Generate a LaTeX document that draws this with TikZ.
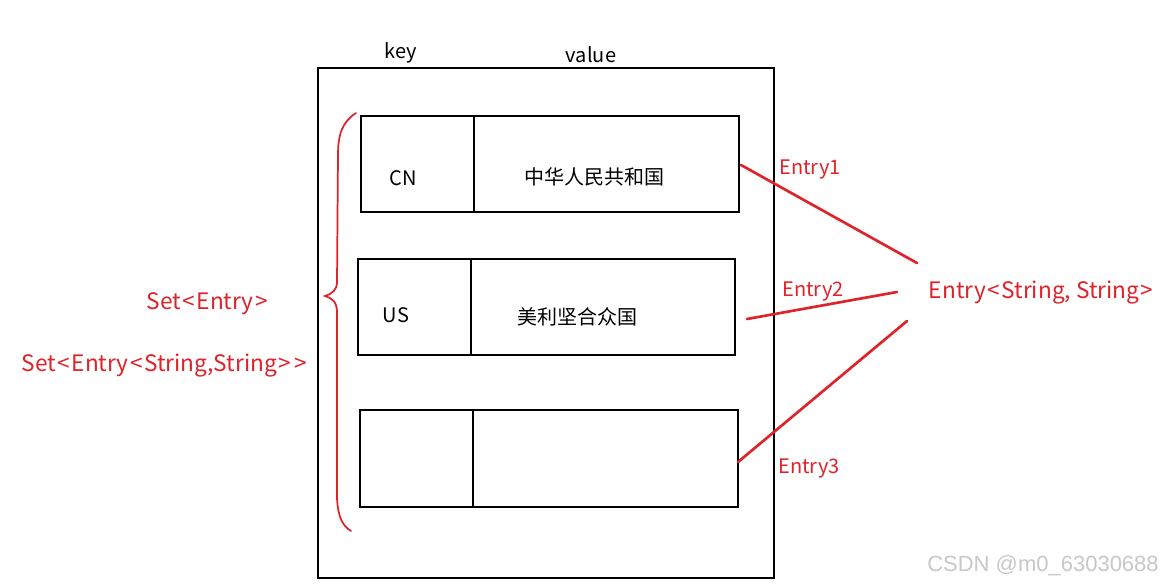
\documentclass[tikz,border=0pt]{standalone}
\usepackage{fontspec}
\setmainfont{Noto Sans CJK SC}
\newfontfamily\wmfont{Liberation Sans}
\definecolor{penred}{RGB}{222,35,42}
\definecolor{wmgray}{RGB}{200,200,200}
\newcommand{\LT}{\kern1.2pt<\kern1.2pt}
\newcommand{\GT}{\kern1.2pt>\kern1.2pt}
\tikzset{
  box/.style={draw=black, line width=2.2pt},
  cell/.style={draw=black, line width=2pt},
  redline/.style={draw=penred, line width=2pt, line cap=round},
  blk/.style={text=black, font=\fontsize{15}{18}\selectfont, inner sep=0pt},
  rtxt/.style={text=penred, font=\fontsize{15}{18}\selectfont, inner sep=0pt},
  bigr/.style={text=penred, font=\fontsize{17}{20}\selectfont, inner sep=0pt},
}
\begin{document}
\begin{tikzpicture}[x=0.75pt, y=-0.75pt]
\useasboundingbox[fill=white] (0,0) rectangle (1166,586);
% outer box
\draw[box] (318,68) rectangle (774,578);
% rows
\draw[cell] (361,116) rectangle (739,212);
\draw[cell] (474,116) -- (474,212);
\draw[cell] (358,259) rectangle (735,355);
\draw[cell] (471,259) -- (471,355);
\draw[cell] (360,410) rectangle (738,507);
\draw[cell] (473,410) -- (473,507);
% headers
\node[blk] (key) at (401,53) {key};
\node[blk] (value) at (591,55) {value};
\node[blk] (cn) at (403,178) {CN};
\node[blk] (cnv) at (594,177) {中华人民共和国};
\node[blk] (us) at (396,315) {US};
\node[blk] (usv) at (577,317) {美利坚合众国};
% brace
\draw[draw=penred, line width=1.3pt, line cap=round]
  (356,113) .. controls (342,122) and (338,135) .. (338,155)
  -- (337,282) .. controls (337,290) and (332,294) .. (325,296)
  .. controls (332,298) and (337,302) .. (337,312)
  -- (337,498) .. controls (338,518) and (343,526) .. (351,531);
% labels
\node[rtxt] (e1) at (810,170) {Entry1};
\node[rtxt] (e2) at (813,292) {Entry2};
\node[rtxt] (e3) at (809,468) {Entry3};
\node[bigr] (ess) at (1042,293) {Entry\LT String, String\GT};
\node[bigr] (se) at (208,304) {Set\LT Entry\GT};
\node[bigr] (sess) at (165,366) {Set\LT Entry\LT String,String\GT\GT};
% connectors
\coordinate (r1) at (741,165);
\coordinate (r2) at (747,319);
\coordinate (r3) at (738,462);
\coordinate (t1) at (917,263);
\coordinate (t2) at (897,292);
\coordinate (t3) at (907,321);
\draw[redline] (r1) -- (t1);
\draw[redline] (r2) -- (t2);
\draw[redline] (r3) -- (t3);
% watermark
\node[text=wmgray, font=\fontsize{16.5}{19}\selectfont\wmfont, inner sep=0pt] (wm) at (1043,566) {CSDN @m0\_63030688};
\end{tikzpicture}
\end{document}
